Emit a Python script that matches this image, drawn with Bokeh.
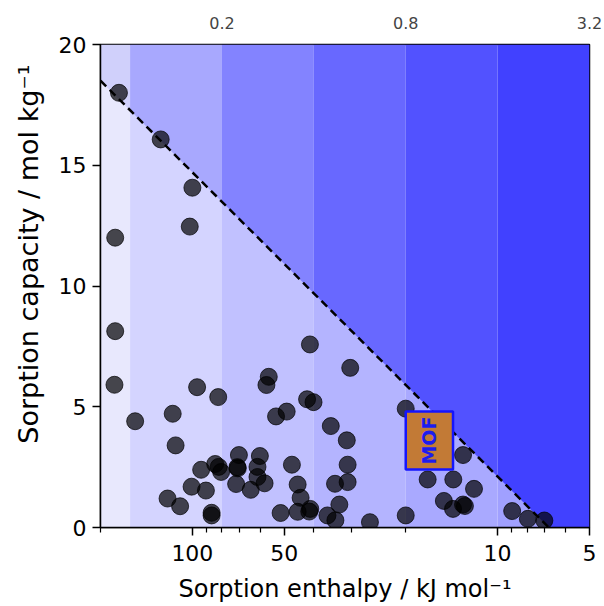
import math
from bokeh.plotting import figure
from bokeh.models import Range1d, FixedTicker, LogAxis, BasicTickFormatter, Title
from bokeh.embed import file_html
from bokeh.resources import INLINE
from bokeh.core.properties import value

# Sorbents: sorption enthalpy (kJ/mol) and sorption capacity (mol/kg)
enthalpy = [174, 127, 100, 102, 179, 179, 180, 154, 96.5, 82.3, 116, 113.5,
            56.2, 57.2, 41.2, 42.1, 40.1, 53.2, 49.1, 35.2, 30.4, 31.2, 31.0,
            34.1, 31.0, 120.6, 109.7, 100.6, 90.3, 93.6, 84.2, 82.0, 80.5,
            86.5, 86.5, 70.4, 71.2, 71.0, 71.9, 64.4, 60.1, 61.2, 61.2, 58.0,
            47.2, 45.2, 44.2, 51.4, 45.2, 41.1, 41.4, 36.1, 34.0, 33.0, 26.2,
            20.0, 20.0, 16.95, 13.97, 12.98, 11.95, 15.0, 14.0, 12.98, 12.8,
            8.96, 7.96, 7.03]
capacity = [18.0, 16.07, 14.07, 12.46, 12.0, 8.13, 5.91, 4.40, 5.81, 5.40, 4.71, 3.40,
            6.24, 5.90, 7.58, 5.31, 5.19, 4.60, 4.80, 4.20, 6.61, 3.61, 2.60,
            1.81, 1.88, 1.20, 0.88, 1.69, 1.53, 2.39, 2.63, 2.51, 2.30,
            0.61, 0.50, 3.00, 2.50, 2.45, 1.80, 1.56, 2.96, 2.51, 2.09, 1.83,
            2.60, 1.78, 1.23, 0.60, 0.65, 0.77, 0.66, 0.50, 0.30, 0.95, 0.22,
            4.92, 0.50, 1.99, 1.99, 3.00, 1.60, 1.10, 0.77, 0.95, 0.89,
            0.68, 0.36, 0.29]

# Shaded enthalpy bands (kJ/mol) and their colours
band_edges = [200, 160, 80, 40, 20, 10, 5]
band_colors = ["#d0d0fb", "#a8a8fe", "#8383ff", "#6868ff", "#5252ff", "#4141ff"]

# Upper-bound line: (enthalpy, capacity) end points
bound_enthalpy = [200, 6.8]
bound_capacity = [18.5, 0.0]

# MOF box
mof_enthalpy = [20, 14]
mof_capacity = [2.4, 4.8]

# Secondary (top) scale: ratio = 16 / enthalpy
top_ratio_ticks = [0.2, 0.8, 3.2]
top_ratio_labels = ["0.2", "0.8", "3.2"]

FONT = "DejaVu Sans"

p = figure(width=604, height=606, x_axis_type="log",
           x_range=Range1d(200, 5), y_range=Range1d(0, 20),
           output_backend="svg", toolbar_location=None,
           min_border_left=99, min_border_right=15,
           min_border_top=44, min_border_bottom=79)
p.xgrid.visible = False
p.ygrid.visible = False
p.background_fill_color = "white"
p.border_fill_color = "white"
p.outline_line_color = "black"
p.outline_line_width = 1.5

# background bands
p.quad(left=band_edges[:-1], right=band_edges[1:], bottom=0, top=20,
       fill_color=band_colors, line_color=None)

# lighten the region under the bound
p.patch(x=[bound_enthalpy[0], bound_enthalpy[0], bound_enthalpy[1]],
        y=[0, bound_capacity[0], 0],
        fill_color="white", fill_alpha=0.5, line_color=None)

p.line(x=bound_enthalpy, y=bound_capacity, line_color="black",
       line_width=2.5, line_dash="8 5")

p.scatter(x=enthalpy, y=capacity, size=17, fill_color="black", fill_alpha=0.7,
          line_color="black", line_alpha=0.7, line_width=1)

# MOF marker
p.quad(left=[mof_enthalpy[0]], right=[mof_enthalpy[1]],
       bottom=[mof_capacity[0]], top=[mof_capacity[1]],
       fill_color="#c27a36", line_color="#1414ff", line_width=2.5)
p.text(x=[math.sqrt(mof_enthalpy[0] * mof_enthalpy[1])],
       y=[(mof_capacity[0] + mof_capacity[1]) / 2], text=["MOF"],
       angle=math.pi / 2, text_align="center", text_baseline="middle",
       text_font=value(FONT), text_font_style="bold", text_font_size="19px",
       text_color="#1c1cf0")

# axes styling
xa = p.xaxis[0]
xa.ticker = FixedTicker(ticks=[5, 10, 50, 100],
                        minor_ticks=[6, 7, 8, 9, 20, 30, 40, 60, 70, 80, 90, 200])
xa.formatter = BasicTickFormatter()
xa.axis_label = "Sorption enthalpy / kJ mol⁻¹"

ya = p.yaxis[0]
ya.ticker = FixedTicker(ticks=[0, 5, 10, 15, 20])

for ax in (xa, ya):
    ax.axis_line_color = "black"
    ax.axis_line_width = 1.5
    ax.major_tick_line_color = "black"
    ax.major_tick_line_width = 1.5
    ax.minor_tick_line_color = "black"
    ax.minor_tick_line_width = 1.2
    ax.major_tick_in = 0
    ax.major_tick_out = 8
    ax.minor_tick_in = 0
    ax.minor_tick_out = 5
    ax.major_label_text_font = FONT
    ax.major_label_text_font_size = "22px"
    ax.major_label_text_color = "black"
    ax.axis_label_text_font = FONT
    ax.axis_label_text_font_style = "normal"
    ax.axis_label_text_color = "black"

xa.axis_label_text_font_size = "24px"
xa.major_label_standoff = 9
xa.axis_label_standoff = 11
ya.major_label_standoff = 6

# y label, set as a side title so it can sit toward the top of the frame
ylab = Title(text="Sorption capacity / mol kg⁻¹", align="right", offset=20,
             vertical_align="middle", standoff=22,
             text_font=FONT, text_font_size="27px", text_font_style="normal",
             text_color="black")
p.add_layout(ylab, "left")

top = LogAxis(ticker=FixedTicker(ticks=[16 / r for r in top_ratio_ticks]),
              major_label_overrides={16 / r: s for r, s in zip(top_ratio_ticks, top_ratio_labels)},
              axis_line_color=None, major_tick_out=0, major_tick_in=0,
              minor_tick_out=0, minor_tick_in=0,
              major_label_text_font=FONT, major_label_text_font_size="16px",
              major_label_standoff=16)
p.add_layout(top, "above")

open("out.html", "w").write(file_html(p, INLINE))
